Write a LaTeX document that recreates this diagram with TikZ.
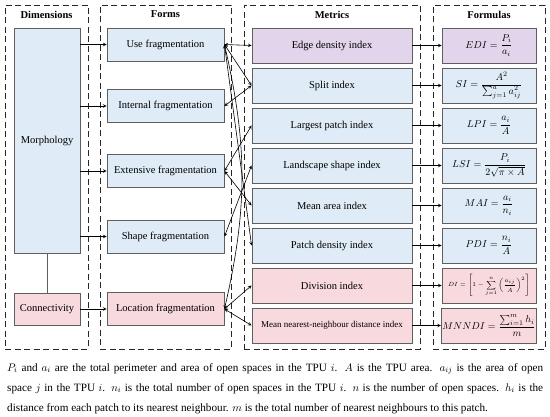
\documentclass[tikz,border=0pt]{standalone}
\usepackage{amsmath}
\usepackage{fontspec}
\setmainfont{Liberation Serif}
\usetikzlibrary{positioning}

\definecolor{blueFill}{RGB}{223,235,246}
\definecolor{purpleFill}{RGB}{226,212,235}
\definecolor{pinkFill}{RGB}{248,218,222}
\definecolor{boxLine}{RGB}{95,95,95}

\begin{document}
\begin{tikzpicture}[x=1pt, y=1pt, node distance=40pt]

  % Definitions
  \tikzstyle{panel} = [rectangle, draw=black!85, line width=0.9pt, dash pattern=on 6pt off 3.5pt, minimum height=344pt]
  \tikzstyle{head} = [font=\bfseries\fontsize{10.5}{12}\selectfont]
  \tikzstyle{dim} = [rectangle, minimum width=66pt, text centered, draw=boxLine, line width=0.9pt, fill=blueFill, font=\fontsize{10.5}{12}\selectfont]
  \tikzstyle{form} = [rectangle, minimum width=117pt, minimum height=33pt, text centered, draw=boxLine, line width=0.9pt, fill=blueFill, font=\fontsize{10.5}{12}\selectfont]
  \tikzstyle{metric} = [rectangle, minimum width=160pt, minimum height=35pt, text centered, draw=boxLine, line width=0.9pt, fill=blueFill, font=\fontsize{10.5}{12}\selectfont]
  \tikzstyle{formula} = [rectangle, minimum width=94pt, minimum height=35pt, inner sep=1pt, text centered, draw=boxLine, line width=0.9pt, fill=blueFill, font=\fontsize{10}{12}\selectfont]
  \tikzstyle{arrow} = [line width=0.6pt, ->, >=stealth]
  \tikzstyle{link} = [line width=0.6pt, <->, >=stealth]

  \useasboundingbox (0,0) rectangle (550,-417);

  % dashed columns
  \node (dimpanel) [panel, minimum width=83pt] at (46.5,-177) {};
  \node (formpanel) [panel, minimum width=131pt] at (165.5,-177) {};
  \node (metpanel) [panel, minimum width=176pt] at (332,-177) {};
  \node (fmlpanel) [panel, minimum width=112pt] at (489,-177) {};

  \node (dimhead) [head, below=3pt of dimpanel.north] {Dimensions};
  \node (formhead) [head, below=3pt of formpanel.north] {Forms};
  \node (methead) [head, below=3pt of metpanel.north] {Metrics};
  \node (fmlhead) [head, below=3pt of fmlpanel.north] {Formulas};

  % dimensions
  \node (morph) [dim, minimum height=225pt] at (47,-140.5) {Morphology};
  \node (conn) [dim, fill=pinkFill, minimum height=32pt, below of=morph, node distance=168.5pt] {Connectivity};

  % forms
  \node (use) [form] at (165.5,-44.5) {Use fragmentation};
  \node (internal) [form, below of=use, node distance=61.5pt] {Internal fragmentation};
  \node (extensive) [form, below of=internal, node distance=65pt] {Extensive fragmentation};
  \node (shape) [form, below of=extensive, node distance=65.5pt] {Shape fragmentation};
  \node (location) [form, fill=pinkFill, below of=shape, node distance=72.5pt] {Location fragmentation};

  % metrics
  \node (edi) [metric, fill=purpleFill] at (332,-45.5) {Edge density index};
  \node (si) [metric, below of=edi] {Split index};
  \node (lpi) [metric, below of=si] {Largest patch index};
  \node (lsi) [metric, below of=lpi] {Landscape shape index};
  \node (mai) [metric, below of=lsi] {Mean area index};
  \node (pdi) [metric, below of=mai] {Patch density index};
  \node (di) [metric, fill=pinkFill, below of=pdi] {Division index};
  \node (mnndi) [metric, fill=pinkFill, below of=di, font=\fontsize{9}{11}\selectfont] {Mean nearest-neighbour distance index};

  % formulas
  \node (edif) [formula, fill=purpleFill, right of=edi, node distance=157pt] {$EDI=\dfrac{P_i}{a_i}$};
  \node (sif) [formula, right of=si, node distance=157pt] {$SI=\dfrac{A^2}{\sum_{j=1}^{a}a_{ij}^2}$};
  \node (lpif) [formula, right of=lpi, node distance=157pt] {$LPI=\dfrac{a_i}{A}$};
  \node (lsif) [formula, right of=lsi, node distance=157pt] {$LSI=\dfrac{P_i}{2\sqrt{\pi\times A}}$};
  \node (maif) [formula, right of=mai, node distance=157pt] {$MAI=\dfrac{a_i}{n_i}$};
  \node (pdif) [formula, right of=pdi, node distance=157pt] {$PDI=\dfrac{n_i}{A}$};
  \node (dif) [formula, fill=pinkFill, right of=di, node distance=157pt, font=\fontsize{6}{7}\selectfont] {$\displaystyle DI=\left[1-\sum_{j=1}^{n}\left(\frac{a_{ij}}{A}\right)^{2}\right]$};
  \node (mnndif) [formula, fill=pinkFill, right of=mnndi, node distance=157pt] {$MNNDI=\dfrac{\sum_{i=1}^{m}h_i}{m}$};

  % note
  \node (note) [anchor=north west, text width=536pt, inner sep=0pt, align=justify, font=\fontsize{11.2}{20}\selectfont] at (7,-363) {$P_i$ and $a_i$ are the total perimeter and area of open spaces in the TPU $i$. $A$ is the TPU area. $a_{ij}$ is the area of open\linebreak space $j$ in the TPU $i$. $n_i$ is the total number of open spaces in the TPU $i$. $n$ is the number of open spaces. $h_i$ is the\linebreak distance from each patch to its nearest neighbour. $m$ is the total number of nearest neighbours to this patch.};

  \draw [boxLine, line width=0.9pt] (morph) -- (conn);
  \draw [arrow] (morph.east |- use) -- (use);
  \draw [arrow] (morph.east |- internal) -- (internal);
  \draw [arrow] (morph.east |- extensive) -- (extensive);
  \draw [arrow] (morph.east |- shape) -- (shape);
  \draw [arrow] (conn) -- (location);

  \draw [link] (use.east) -- (edi.west);
  \draw [link] (use.east) -- (si.west);
  \draw [link] (internal.east) -- (si.west);
  \draw [link] (extensive.east) -- (lpi.west);
  \draw [link] (shape.east) -- (lsi.west);
  \draw [link] (extensive.east) -- (mai.west);
  \draw [link] (use.east) -- (pdi.west);
  \draw [link] (location.east) to[bend right=13] (use.east);
  \draw [link] (location.east) -- (di.west);
  \draw [link] (location.east) -- (mnndi.west);

  \draw [arrow] (edi) -- (edif);
  \draw [arrow] (si) -- (sif);
  \draw [arrow] (lpi) -- (lpif);
  \draw [arrow] (lsi) -- (lsif);
  \draw [arrow] (mai) -- (maif);
  \draw [arrow] (pdi) -- (pdif);
  \draw [arrow] (di) -- (dif);
  \draw [arrow] (mnndi) -- (mnndif);

\end{tikzpicture}
\end{document}
